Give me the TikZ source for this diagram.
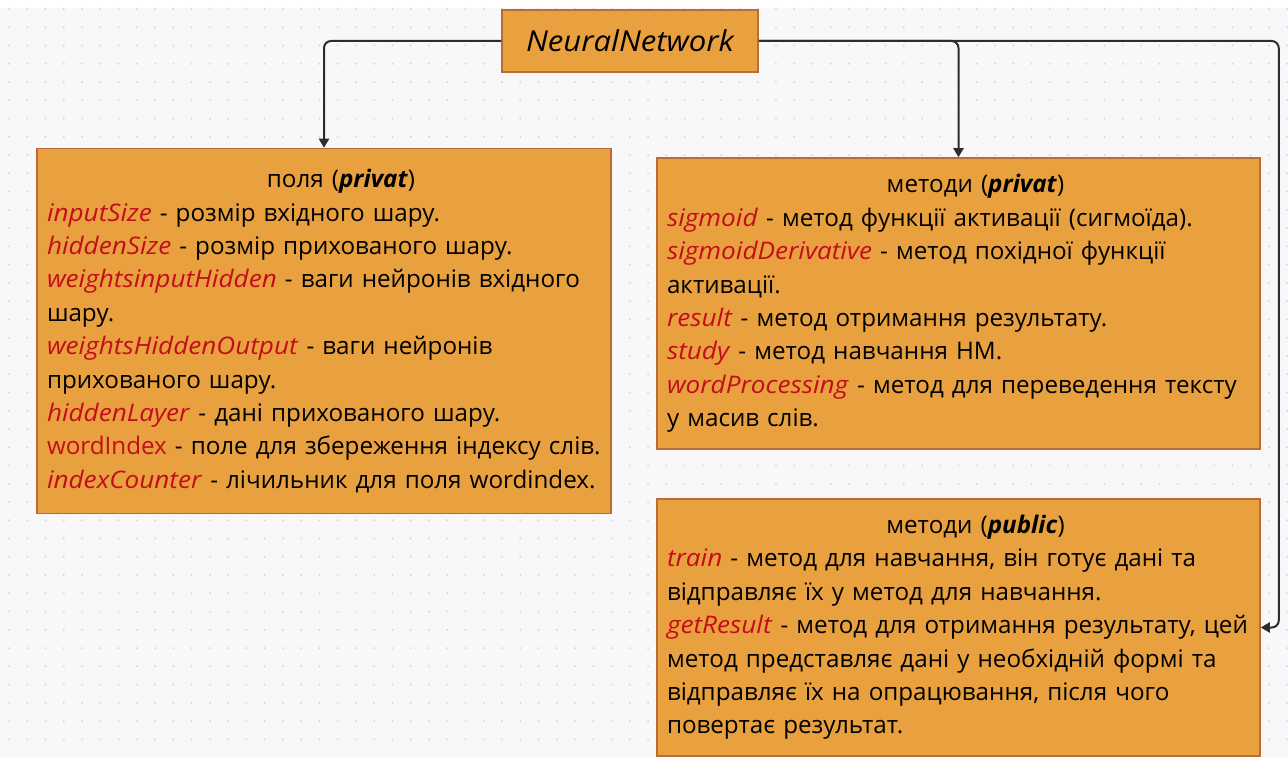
\documentclass[tikz,border=0pt]{standalone}
\usepackage{fontspec}
\setmainfont{Open Sans}[ItalicFeatures={FakeStretch=1.08}]
\usetikzlibrary{arrows.meta}
\definecolor{bgc}{RGB}{248,248,250}
\definecolor{dotc}{RGB}{216,216,220}
\definecolor{boxfill}{RGB}{232,161,62}
\definecolor{boxline}{RGB}{185,108,52}
\definecolor{rdc}{RGB}{196,12,28}
\definecolor{linec}{RGB}{45,45,48}
\newcommand{\rd}[1]{\textcolor{rdc}{\textit{#1}}}
\newcommand{\rdn}[1]{\textcolor{rdc}{#1}}
\newcommand{\bi}[1]{\textbf{\textit{#1}}}
\tikzset{
  boxnode/.style={draw=boxline, line width=1.5pt, fill=boxfill, rectangle, inner xsep=10pt, inner ysep=0pt, align=left, font=\fontsize{24.2}{33.4}\selectfont},
  conn/.style={draw=linec, line width=2pt, rounded corners=7pt, -{Triangle[width=10pt,length=9pt]}},
}
\begin{document}
\begin{tikzpicture}[x=1pt,y=-1pt]
\useasboundingbox (0,0) rectangle (1288,757);
\fill[bgc] (0,8) rectangle (1288,757);
\foreach \i in {0,...,70}{
  \foreach \j in {0,...,41}{
    \fill[dotc] ({9+18.26*\i},{9+18.26*\j}) circle (1.1pt);
  }
}
\node[draw=boxline, line width=1.5pt, fill=boxfill, minimum width=256pt, minimum height=62pt, inner sep=0pt, font=\fontsize{28.8}{34}\selectfont\itshape] (nn) at (630,41) {NeuralNetwork};

\node[boxnode, minimum width=574pt, minimum height=365pt, text width=554pt] (fields) at (324,331) {%
\makebox[554pt]{\hspace{34pt}поля (\bi{privat})}\\
\mbox{\rd{inputSize} - розмір вхідного шару.}\\
\mbox{\rd{hiddenSize} - розмір прихованого шару.}\\
\mbox{\rd{weightsinputHidden} - ваги нейронів вхідного}\\
шару.\\
\mbox{\rd{weightsHiddenOutput} - ваги нейронів}\\
\mbox{прихованого шару.}\\
\mbox{\rd{hiddenLayer} - дані прихованого шару.}\\
\mbox{\rdn{wordIndex} - поле для збереження індексу слів.}\\
\mbox{\rd{indexCounter} - лічильник для поля wordindex.}};

\node[boxnode, minimum width=603pt, minimum height=291pt, text width=583pt] (priv) at (958.5,303.5) {%
\makebox[583pt]{\hspace{34pt}методи (\bi{privat})}\\
\mbox{\rd{sigmoid} - метод функції активації (сигмоїда).}\\
\mbox{\rd{sigmoidDerivative} - метод похідної функції}\\
активації.\\
\mbox{\rd{result} - метод отримання результату.}\\
\mbox{\rd{study} - метод навчання НМ.}\\
\mbox{\rd{wordProcessing} - метод для переведення тексту}\\
\mbox{у масив слів.}};

\node[boxnode, minimum width=603pt, minimum height=257pt, text width=583pt] (pub) at (958.5,627.5) {%
\makebox[583pt]{\hspace{34pt}методи (\bi{public})}\\
\mbox{\rd{train} - метод для навчання, він готує дані та}\\
\mbox{відправляє їх у метод для навчання.}\\
\mbox{\rd{getResult} - метод для отримання результату, цей}\\
\mbox{метод представляє дані у необхідній формі та}\\
\mbox{відправляє їх на опрацювання, після чого}\\
\mbox{повертає результат.}};

\draw[conn] (nn.west) -| (fields.north);
\draw[conn] (nn.east) -| (priv.north);
\draw[conn] (nn.east) -| ([xshift=18pt]pub.east) -- (pub.east);
\end{tikzpicture}
\end{document}
